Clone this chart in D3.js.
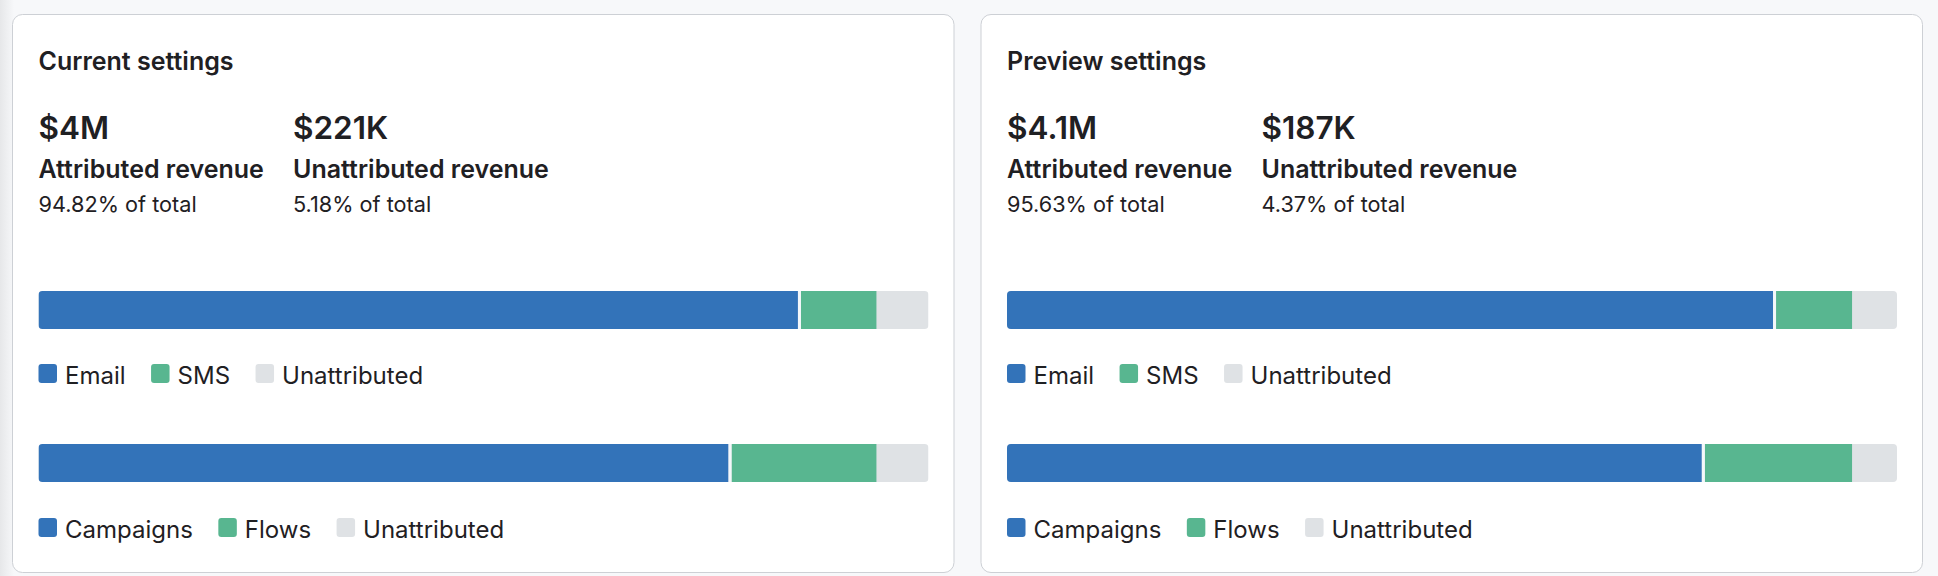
<!DOCTYPE html>
<html>
<head>
<meta charset="utf-8">
<script src="https://cdn.jsdelivr.net/npm/d3@7"></script>
<style>
  html, body { margin: 0; padding: 0; background: #f7f8fa; }
  svg { display: block; }
  text { font-family: Inter, "Open Sans", sans-serif; fill: #1f2023; }
</style>
</head>
<body>
<svg id="chart" width="1938" height="576"></svg>
<script>
// ---- data ----
const panelTitles = ["Current settings", "Preview settings"];
const attributedRevenue = ["$4M", "$4.1M"];
const unattributedRevenue = ["$221K", "$187K"];
const attributedPct = [94.82, 95.63];
const unattributedPct = [5.18, 4.37];
const channelKeys = ["Email", "SMS", "Unattributed"];
const channelShares = [[85.5, 8.65, 5.85], [86.24, 8.71, 5.05]];
const typeKeys = ["Campaigns", "Flows", "Unattributed"];
const typeShares = [[77.7, 16.45, 5.85], [78.24, 16.71, 5.05]];
const colors = ["#3373b9", "#58b690", "#dfe2e5"];

// ---- layout ----
const W = 1938, H = 576;
const cardX = [12.5, 981], cardY = 14.5, cardW = 941.5, cardH = 558;
const pad = 26;
const barW = 890, barH = 38;

const svg = d3.select("#chart");
const defs = svg.append("defs");

// left edge shading
const lg = defs.append("linearGradient").attr("id", "edge").attr("x1", 0).attr("x2", 1);
lg.append("stop").attr("offset", 0).attr("stop-color", "#e6e7e9");
lg.append("stop").attr("offset", 1).attr("stop-color", "#f7f8fa");
svg.append("rect").attr("x", 0).attr("y", 0).attr("width", 14).attr("height", H).attr("fill", "url(#edge)");

const x = d3.scaleLinear().domain([0, 100]).range([0, barW]);
const colorScale = d3.scaleOrdinal().domain([0, 1, 2]).range(colors);

panelTitles.forEach((title, i) => {
  const g = svg.append("g").attr("transform", `translate(${cardX[i]},${cardY})`);
  g.append("rect").attr("x", 0).attr("y", 0).attr("width", cardW).attr("height", cardH)
    .attr("rx", 10).attr("fill", "#ffffff").attr("stroke", "#cdd0d5").attr("stroke-width", 1);

  const L = pad;
  g.append("text").attr("x", L).attr("y", 70 - cardY).text(title)
    .style("font-size", "25px").style("font-weight", 600);

  const stats = [
    { v: attributedRevenue[i], l: "Attributed revenue", p: attributedPct[i] },
    { v: unattributedRevenue[i], l: "Unattributed revenue", p: unattributedPct[i] }
  ];
  stats.forEach((s, j) => {
    const sx = L + j * 254.5;
    g.append("text").attr("x", sx).attr("y", 139 - cardY).text(s.v)
      .style("font-size", "31.5px").style("font-weight", 600);
    g.append("text").attr("x", sx).attr("y", 178 - cardY).text(s.l)
      .style("font-size", "25px").style("font-weight", 600);
    g.append("text").attr("x", sx).attr("y", 212 - cardY).text(`${s.p.toFixed(2)}% of total`)
      .style("font-size", "21.7px").style("font-weight", 400);
  });

  const bars = [
    { keys: channelKeys, vals: channelShares[i], y: 291, ly: 364 },
    { keys: typeKeys, vals: typeShares[i], y: 444, ly: 518 }
  ];
  bars.forEach((b, k) => {
    const clipId = `clip-${i}-${k}`;
    defs.append("clipPath").attr("id", clipId)
      .append("rect").attr("x", 0).attr("y", 0).attr("width", barW).attr("height", barH).attr("rx", 4);
    const bg = g.append("g").attr("transform", `translate(${L},${b.y - cardY})`)
      .append("g").attr("clip-path", `url(#${clipId})`);
    const cum = d3.cumsum(b.vals);
    const segs = b.vals.map((v, n) => ({ n, start: n === 0 ? 0 : cum[n - 1], end: cum[n] }));
    // track (unattributed) full width
    bg.append("rect").attr("x", 0).attr("y", 0).attr("width", x(100)).attr("height", barH).attr("fill", colors[2]);
    bg.selectAll("rect.seg").data(segs.slice(0, 2)).join("rect").attr("class", "seg")
      .attr("x", d => x(d.start) + (d.n === 1 ? 1.5 : 0))
      .attr("y", 0)
      .attr("width", d => x(d.end) - x(d.start) - 1.5)
      .attr("height", barH)
      .attr("fill", d => colorScale(d.n));
    bg.append("rect").attr("x", x(segs[0].end) - 1.5).attr("y", 0).attr("width", 3).attr("height", barH).attr("fill", "#f4f7fa");

    // legend
    let lx = L;
    b.keys.forEach((key, n) => {
      g.append("rect").attr("x", lx).attr("y", b.ly - cardY).attr("width", 18.5).attr("height", 19)
        .attr("rx", 3).attr("fill", colors[n]);
      const t = g.append("text").attr("x", lx + 26.5).attr("y", b.ly + 20 - cardY).text(key)
        .style("font-size", "24px").style("font-weight", 400);
      const tw = t.node().getComputedTextLength();
      lx = lx + 26.5 + tw + 25.5;
    });
  });
});
</script>
</body>
</html>
